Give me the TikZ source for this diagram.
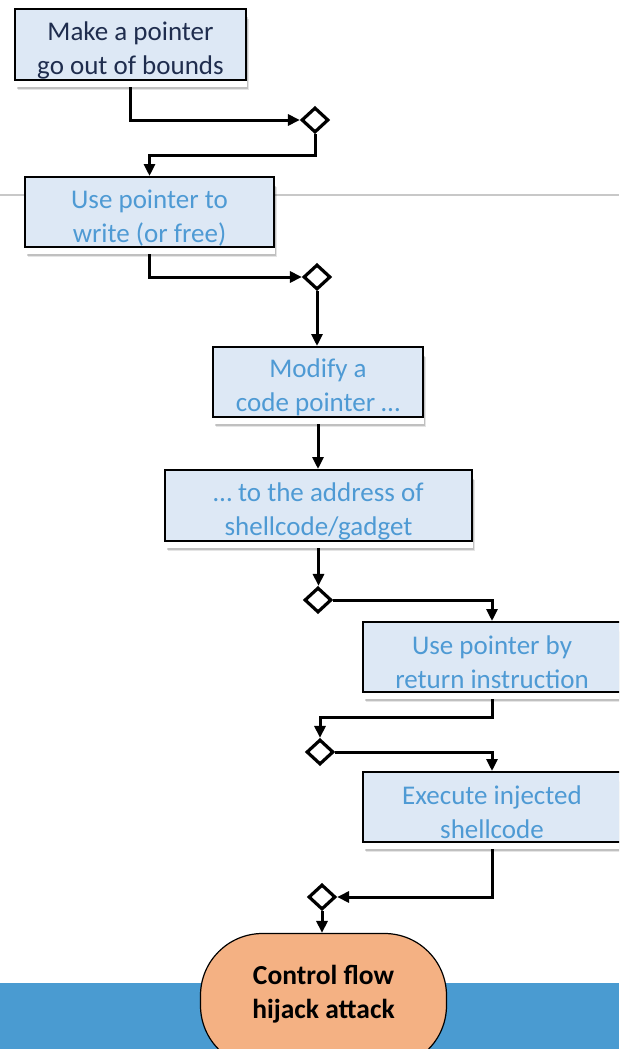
\documentclass[tikz,border=0pt]{standalone}
\usepackage{fontspec}
\setmainfont{Carlito}
\usetikzlibrary{arrows.meta,shapes.geometric,shadows}
\definecolor{boxfill}{RGB}{221,232,245}
\definecolor{navytext}{RGB}{31,45,78}
\definecolor{bluetext}{RGB}{78,154,212}
\definecolor{termfill}{RGB}{244,177,131}
\definecolor{bandblue}{RGB}{74,155,209}
\definecolor{rulegray}{RGB}{200,200,200}
\pgfdeclarelayer{bg}
\pgfsetlayers{bg,main}
% tall strut that sets the first text line a little lower in its box
\newcommand{\toppad}{\rule{0pt}{30pt}}
\begin{document}
\begin{tikzpicture}[x=1pt,y=-1pt,
  stepbox/.style={rectangle, draw=black, line width=2pt, fill=boxfill,
    text=bluetext, align=center, inner sep=0pt,
    font=\fontsize{27}{34}\selectfont,
    general shadow={fill=black, fill opacity=0.10, shadow xshift=2.5pt, shadow yshift=-10pt},
    general shadow={fill=black, fill opacity=0.16, shadow xshift=1.5pt, shadow yshift=-8.5pt},
    general shadow={fill=white, shadow xshift=1pt, shadow yshift=-7pt}},
  gate/.style={diamond, draw=black, line width=3.2pt, fill=white,
    minimum width=27pt, minimum height=25pt, inner sep=0pt},
  flow/.style={line width=3pt, -{Triangle[length=12pt,width=11pt]}},
  terminal/.style={rectangle, rounded corners=62pt, draw=black, line width=1.2pt,
    fill=termfill, align=center, inner sep=0pt,
    font=\bfseries\fontsize{27.5}{34}\selectfont,
    execute at end node={\rule[-17pt]{0pt}{1pt}}},
]
\useasboundingbox (0,0) rectangle (619,1049);
\clip (0,0) rectangle (619,1049);

% process steps
\node[stepbox, text=navytext, minimum width=231pt, minimum height=71pt] (b1) at (130.5,44.5)
  {\toppad Make a pointer\\go out of bounds};
\node[stepbox, minimum width=249pt, minimum height=70pt] (b2) at (149.5,212)
  {\toppad Use pointer to\\write (or free)};
\node[stepbox, minimum width=210pt, minimum height=70pt] (b3) at (318,382)
  {\toppad Modify a\\code pointer …};
\node[stepbox, minimum width=307pt, minimum height=71pt] (b4) at (318.5,505.5)
  {\toppad … to the address of\\shellcode/gadget};
\node[stepbox, minimum width=258pt, minimum height=70pt] (b5) at (492,657)
  {\toppad Use pointer by\\return instruction};
\node[stepbox, minimum width=258pt, minimum height=70pt] (b6) at (492,807)
  {\toppad Execute injected\\shellcode};

% merge points
\node[gate] (d1) at (315,120) {};
\node[gate] (d2) at (317,277) {};
\node[gate] (d3) at (318,600) {};
\node[gate] (d4) at (320,752) {};
\node[gate] (d5) at (322,897) {};

% outcome
\node[terminal, minimum width=246pt, minimum height=134pt] (term) at (323.5,1000.5)
  {Control flow\\hijack attack};

\begin{pgfonlayer}{bg}
  \fill[bandblue] (0,982.5) rectangle (619,1049);
  \draw[rulegray, line width=2pt] (0,195) -- (619,195);

  \draw[flow] (b1.south) |- (d1.west);
  \draw[flow] (d1.south) -- ++(0,21) -| (b2.north);
  \draw[flow] (b2.south) |- (d2.west);
  \draw[flow] (d2.south) -- (d2.south |- b3.north);
  \draw[flow] (b3.south) -- (b3.south |- b4.north);
  \draw[flow] (b4.south) -- (b4.south |- d3.north);
  \draw[flow] (d3.east) -| (b5.north);
  \draw[flow] (b5.south) -- ++(0,24) -| (d4.north);
  \draw[flow] (d4.east) -| (b6.north);
  \draw[flow] (b6.south) |- (d5.east);
  \draw[flow] (d5.south) -- (d5.south |- term.north);
\end{pgfonlayer}
\end{tikzpicture}
\end{document}
